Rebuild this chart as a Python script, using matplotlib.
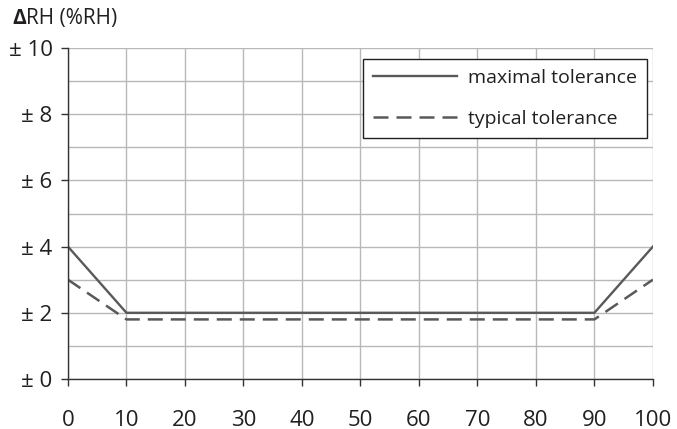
import matplotlib.pyplot as plt
from matplotlib.ticker import MultipleLocator

# humidity (%RH) and tolerance values
humidity = [0, 10, 90, 100]
max_tol = [4, 2, 2, 4]
typ_tol = [3, 1.8, 1.8, 3]
y_ticks = [0, 2, 4, 6, 8, 10]
y_labels = ['\u00b1 0', '\u00b1 2', '\u00b1 4', '\u00b1 6', '\u00b1 8', '\u00b1 10']

plt.rcParams['font.family'] = ['Open Sans', 'DejaVu Sans']
txt = '#231f20'
line_col = '#595959'

fig = plt.figure(figsize=(6.77, 4.29), dpi=100)
ax = fig.add_axes([0.1004, 0.1166, 0.864, 0.7714])

ax.plot(humidity, max_tol, color=line_col, lw=1.7, label='maximal tolerance')
ax.plot(humidity, typ_tol, color=line_col, lw=1.8, linestyle=(0, (6.0, 3.2)),
        label='typical tolerance')

ax.set_xlim(0, 100)
ax.set_ylim(0, 10)
ax.xaxis.set_major_locator(MultipleLocator(10))
ax.set_yticks(y_ticks)
ax.set_yticklabels(y_labels)
ax.yaxis.set_minor_locator(MultipleLocator(1))

ax.grid(which='both', color='#b8b8b8', lw=1)
ax.set_axisbelow(True)
for s in ['top', 'right']:
    ax.spines[s].set_visible(False)
for s in ['left', 'bottom']:
    ax.spines[s].set_color('#333333')
    ax.spines[s].set_linewidth(1)

ax.tick_params(axis='x', which='major', direction='out', length=5, width=1,
               color='#333333', pad=17, labelsize=16, labelcolor=txt)
ax.tick_params(axis='y', which='major', direction='out', length=5, width=1,
               color='#333333', pad=6, labelsize=16, labelcolor=txt)
ax.tick_params(axis='y', which='minor', length=0)

leg = ax.legend(loc='upper right', bbox_to_anchor=(0.99, 0.967), fontsize=14,
                frameon=True, fancybox=False, framealpha=1, edgecolor='#231f20',
                handlelength=4.3, handletextpad=0.6, borderpad=0.5,
                labelspacing=1.2, borderaxespad=0)
leg.get_frame().set_linewidth(1)
for t in leg.get_texts():
    t.set_color(txt)

fig.text(0.019, 0.958, '\u0394', fontsize=15, fontweight='bold', color=txt,
         va='center', ha='left')
fig.text(0.039, 0.958, 'RH (%RH)', fontsize=15, color=txt, va='center', ha='left')

fig.savefig('out.png', dpi=100)
